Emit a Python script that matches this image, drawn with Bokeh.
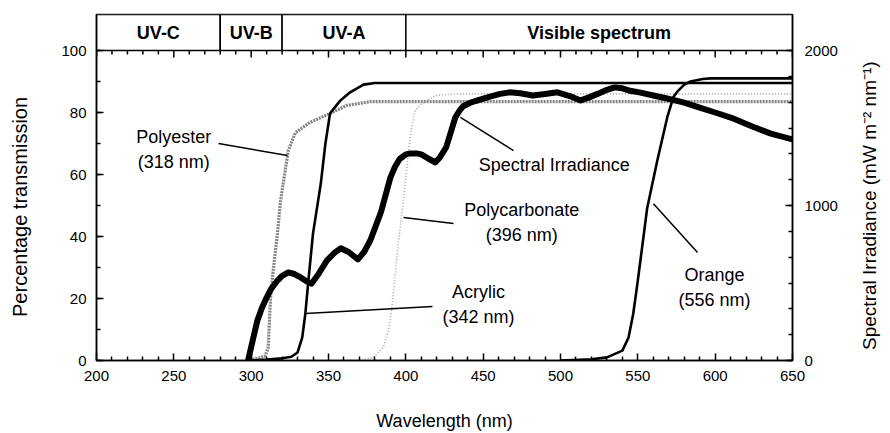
import numpy as np
from bokeh.plotting import figure
from bokeh.models import Range1d, LinearAxis, FixedTicker
from bokeh.core.properties import value
from bokeh.embed import file_html
from bokeh.resources import INLINE

FONT = "Liberation Sans"

# ---------------- data ----------------
band_names = ["UV-C", "UV-B", "UV-A", "Visible spectrum"]
band_start = [200, 280, 320, 400]
band_end = [280, 320, 400, 650]

# Spectral irradiance (mW m-2 nm-1), right axis
irr_nm = [298, 301, 304, 307, 310, 313, 317, 320, 324, 328, 332, 336, 339, 343, 349, 354,
          358, 363, 369, 373, 377, 381, 384, 387, 390, 393, 396, 400, 403, 407, 410, 415,
          419, 422, 426, 429, 432, 435, 437, 441, 445, 450, 455, 461, 467, 474, 482, 490,
          498, 506, 513, 518, 524, 530, 535, 540, 545, 551, 560, 569, 580, 590, 600, 612,
          624, 636, 650]
irr_val = [0, 130, 258, 340, 406, 464, 516, 546, 568, 558, 536, 510, 496, 550, 646, 696,
           724, 700, 652, 700, 774, 880, 960, 1070, 1180, 1250, 1300, 1330, 1336, 1336, 1330, 1300,
           1278, 1310, 1374, 1470, 1568, 1616, 1640, 1660, 1674, 1690, 1704, 1720, 1730, 1724, 1710, 1720,
           1730, 1706, 1678, 1696, 1720, 1746, 1762, 1756, 1740, 1730, 1710, 1690, 1664, 1632, 1600, 1560,
           1510, 1464, 1426]

# Percentage transmission curves
acr_nm = [300, 310, 320, 326, 330, 333, 335, 337, 340, 345, 348, 351, 357.7, 364, 372.6, 380, 650]
acr_val = [0, 0.3, 0.7, 1.2, 2.6, 7.4, 15, 25.8, 41, 57, 70, 79.7, 83.9, 86.5, 89, 89.5, 89.5]

pes_nm = [297, 305, 309, 311, 312.5, 314, 317, 319, 321, 324, 328.6, 338, 351, 362, 377, 650]
pes_val = [0, 0.8, 1.5, 4, 20, 28, 41, 51.6, 58, 67.7, 73.5, 76.8, 79.7, 82.3, 83.5, 83.5]

pc_nm = [360, 372, 379, 385.5, 388.8, 391, 392, 394.6, 397.8, 403, 406, 409.4, 419, 433, 650]
pc_val = [0, 0.3, 1, 4.3, 9.7, 17, 22, 35.5, 49, 73, 80.6, 82.5, 85.5, 86, 86]

or_nm = [500, 520, 530, 540, 544, 547, 550, 556, 562.6, 569, 573, 576, 580, 584, 592, 597, 650]
or_val = [0, 0.4, 1, 3.2, 7.4, 15, 25.8, 49, 64.5, 78.4, 85, 87, 89, 90, 90.8, 91, 91]

# tick values
x_ticks = list(range(200, 651, 50))
x_minor = [v for v in range(200, 651, 10) if v % 50]
pct_ticks = list(range(0, 101, 20))
pct_minor = list(range(0, 101, 10))
irr_ticks = [0, 1000, 2000]
irr_minor = [i * 2000 / 12 for i in range(13)]

# annotation labels (text, centre x in nm, centre y in %) and leader lines
ann_text = ["Polyester\n(318 nm)", "Spectral Irradiance", "Polycarbonate\n(396 nm)",
            "Acrylic\n(342 nm)", "Orange\n(556 nm)"]
ann_x = [250, 496, 475, 447, 599.6]
ann_y = [68.2, 63.2, 44.4, 18.2, 23.7]
lead_x0 = [278.9, 469.6, 398.5, 335.1, 560.1]
lead_y0 = [70.0, 67.7, 46.1, 15.2, 50.6]
lead_x1 = [323.5, 435.3, 430.8, 417.2, 588.6]
lead_y1 = [66.1, 78.4, 44.2, 17.4, 34.8]

# ---------------- geometry ----------------
PLOT_H = 310          # px for 0..100 %
BAND_H = 36           # px for the band strip above the plot
Y_TOP = 100.0 * (PLOT_H + BAND_H) / PLOT_H
IRR_TOP = 2000.0 * Y_TOP / 100.0
PAD = "\u00a0" * 7    # shifts the axis titles to the centre of the 0..100 part

p = figure(frame_width=696, frame_height=PLOT_H + BAND_H,
           x_range=Range1d(200, 650), y_range=Range1d(0, Y_TOP),
           output_backend="svg", toolbar_location=None,
           min_border_left=96, min_border_right=90, min_border_top=14, min_border_bottom=70)
p.grid.visible = False
p.outline_line_color = "black"
p.outline_line_width = 1.5
p.extra_y_ranges = {"irr": Range1d(0, IRR_TOP)}


def style(ax):
    ax.axis_line_color = "black"
    ax.axis_line_width = 1.5
    ax.major_tick_in = 7
    ax.major_tick_out = 0
    ax.minor_tick_in = 4
    ax.minor_tick_out = 0
    ax.major_tick_line_width = 1.5
    ax.minor_tick_line_width = 1.5
    ax.major_label_text_font = FONT
    ax.major_label_text_font_size = "15px"
    ax.major_label_text_color = "black"
    ax.axis_label_text_font = FONT
    ax.axis_label_text_font_style = "normal"
    ax.axis_label_text_color = "black"


xa = p.xaxis[0]
xa.ticker = FixedTicker(ticks=x_ticks, minor_ticks=x_minor)
xa.axis_label = "Wavelength (nm)"
style(xa)
xa.major_label_standoff = 10
xa.axis_label_standoff = 27
xa.axis_label_text_font_size = "18px"

ya = p.yaxis[0]
ya.ticker = FixedTicker(ticks=pct_ticks, minor_ticks=pct_minor)
style(ya)
ya.major_label_standoff = 10
ya.axis_label = "Percentage transmission" + PAD
ya.axis_label_text_font_size = "20px"
ya.axis_label_standoff = 27

RIGHT_TITLE = "Spectral Irradiance (mW m\u207b\u00b2 nm\u207b\u00b9)"
ra = LinearAxis(y_range_name="irr", ticker=FixedTicker(ticks=irr_ticks, minor_ticks=irr_minor))
style(ra)
ra.major_label_standoff = 12
ra.axis_label_text_font_size = "19px"
ra.axis_label_standoff = 29
try:
    ra.axis_label_align = "start"
    ra.axis_label_orientation = np.pi / 2
    ra.axis_label = "\u00a0" * 2 + RIGHT_TITLE
except Exception:
    ra.axis_label = RIGHT_TITLE
p.add_layout(ra, "right")

# band strip above the plot
p.quad(left=band_start, right=band_end, bottom=100, top=Y_TOP, fill_color="white",
       line_color="black", line_width=1.5)
band_mid = [(s + e) / 2 for s, e in zip(band_start, band_end)]
p.text(x=band_mid, y=[(100 + Y_TOP) / 2] * len(band_mid), text=band_names,
       text_font=value(FONT), text_font_size=value("18px"), text_font_style="bold",
       text_align="center", text_baseline="middle", text_color="black")

# inward tick marks along the 100 % line, at the bottom axis tick positions
px_per_pct = PLOT_H / 100.0
p.segment(x0=x_ticks, y0=[100] * len(x_ticks), x1=x_ticks, y1=[100 - 7 / px_per_pct] * len(x_ticks),
          line_color="black", line_width=1.5)
p.segment(x0=x_minor, y0=[100] * len(x_minor), x1=x_minor, y1=[100 - 4 / px_per_pct] * len(x_minor),
          line_color="black", line_width=1.5)

# curves
p.line(pes_nm, pes_val, line_color="#858585", line_width=3.2, line_dash="2 1")
p.line(pc_nm, pc_val, line_color="#a8a8a8", line_width=1.6, line_dash="1 2")
p.line(acr_nm, acr_val, line_color="black", line_width=2.6)
p.line(or_nm, or_val, line_color="black", line_width=2.6)
p.line(irr_nm, irr_val, y_range_name="irr", line_color="black", line_width=6, line_join="round")

# annotations
p.segment(x0=lead_x0, y0=lead_y0, x1=lead_x1, y1=lead_y1, line_color="black", line_width=1.5)
p.text(x=ann_x, y=ann_y, text=ann_text, text_font=value(FONT), text_font_size=value("18px"),
       text_align="center", text_baseline="middle", text_line_height=1.25, text_color="black")

open("out.html", "w").write(file_html(p, INLINE))
